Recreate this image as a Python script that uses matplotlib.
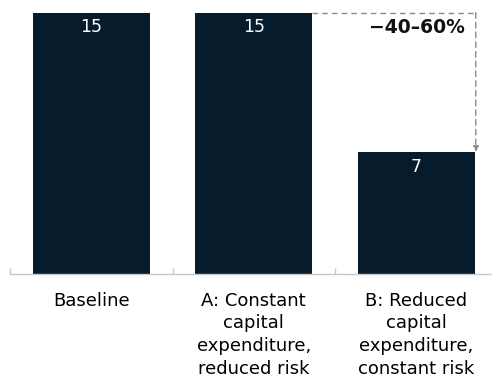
import matplotlib

matplotlib.use("Agg")
import matplotlib.pyplot as plt
import numpy as np

# scenario values (index units)
categories = [
    "Baseline",
    "A: Constant\ncapital\nexpenditure,\nreduced risk",
    "B: Reduced\ncapital\nexpenditure,\nconstant risk",
]
values = [15, 15, 7]
change_label = "\u221240\u201360%"

NAVY = "#061c2c"
GRID = "#c8c8c8"
ARROW = "#8a8a8a"

plt.rcParams["font.family"] = ["DejaVu Sans"]

fig = plt.figure(figsize=(4.92, 3.89), dpi=100)
ax = fig.add_axes([0, 0.2964, 1, 0.7036])

x = np.arange(len(categories))
width = 0.72
ax.bar(x, values, width=width, color=NAVY, zorder=2)

ax.set_xlim(-0.5615, 2.466)
ax.set_ylim(0, 15.73)

# value labels inside the top of each bar
for xi, v in zip(x, values):
    ax.annotate(
        f"{v}",
        xy=(xi, v),
        xytext=(0, -10.6),
        textcoords="offset points",
        ha="center",
        va="center",
        color="white",
        fontsize=12.5,
    )

# dashed bracket from scenario A down to scenario B
x_a = x[1] + width / 2
x_b = x[2] + width / 2 + 0.006
ax.plot([x_a, x_b], [values[1], values[1]], color=ARROW, lw=1, ls=(0, (4, 3)), zorder=1)
ax.annotate(
    "",
    xy=(x_b, values[2]),
    xytext=(x_b, values[1]),
    arrowprops=dict(arrowstyle="-|>", color=ARROW, lw=1, ls=(0, (4, 3)), mutation_scale=8, shrinkA=0, shrinkB=0),
)
ax.annotate(
    change_label,
    xy=(x_b, values[1]),
    xytext=(-8, -11),
    textcoords="offset points",
    ha="right",
    va="center",
    fontsize=13.5,
    fontweight="bold",
    color="#111111",
)

for side in ["top", "right", "left"]:
    ax.spines[side].set_visible(False)
ax.spines["bottom"].set_color(GRID)
ax.spines["bottom"].set_linewidth(1)
ax.spines["bottom"].set_bounds(-0.5, 2.466)
ax.set_yticks([])

ax.set_xticks(np.arange(-0.5, 2.5, 1.0))
ax.set_xticklabels([])
ax.tick_params(axis="x", which="major", direction="in", length=4.3, width=1, color=GRID)
ax.set_xticks(x, minor=True)
ax.set_xticklabels(categories, minor=True, fontsize=13, linespacing=1.33)
ax.tick_params(axis="x", which="minor", length=0, pad=13)

fig.savefig("out.png", dpi=100)
